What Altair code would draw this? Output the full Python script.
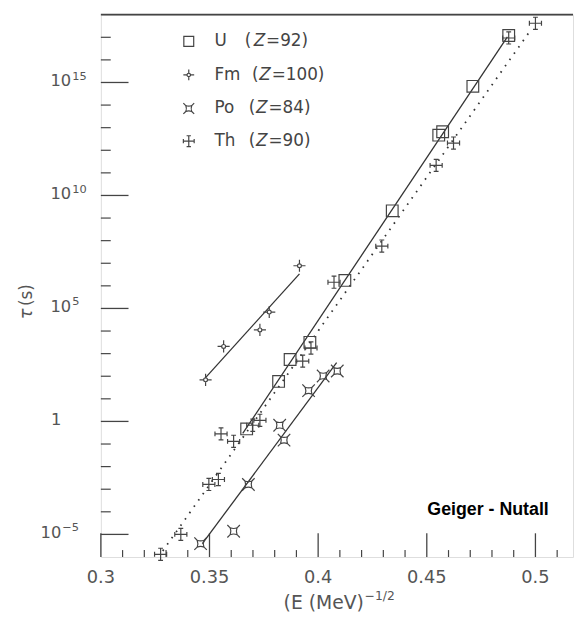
import altair as alt
import pandas as pd

# ---------------- data ----------------
# x = (E / MeV)^(-1/2), values are log10(tau / s)
u_x = [0.4877, 0.4712, 0.4573, 0.4555, 0.4341, 0.4123, 0.3962, 0.3871, 0.3818, 0.3671]
u_log = [17.08, 14.83, 12.82, 12.67, 9.32, 6.24, 3.50, 2.74, 1.77, -0.33]

fm_x = [0.3914, 0.3775, 0.3732, 0.3565, 0.3482]
fm_log = [6.89, 4.84, 4.05, 3.32, 1.84]

po_x = [0.4088, 0.4023, 0.3956, 0.3823, 0.3843, 0.3679, 0.3611, 0.3459]
po_log = [2.23, 2.01, 1.36, -0.17, -0.83, -2.79, -4.86, -5.41]

th_x = [0.5000, 0.4877, 0.4623, 0.4543, 0.4293, 0.4073, 0.3967, 0.3929,
        0.3732, 0.3699, 0.3553, 0.3611, 0.3541, 0.3497, 0.3368, 0.3275]
th_log = [17.62, 16.97, 12.32, 11.33, 7.76, 6.16, 3.25, 2.67,
          0.05, -0.17, -0.55, -0.88, -2.57, -2.79, -5.00, -5.88]

# fitted lines (end points)
u_line_x, u_line_log = [0.3653, 0.4871], [-0.53, 17.02]
fm_line_x, fm_line_log = [0.3482, 0.3914], [1.94, 6.53]
po_line_x, po_line_log = [0.3467, 0.4085], [-5.41, 2.60]
th_line_x, th_line_log = [0.3285, 0.4982], [-5.73, 17.37]

# axis ticks
x_major = [0.30, 0.35, 0.40, 0.45, 0.50]
x_labels = ["0.3", "0.35", "0.4", "0.45", "0.5"]
x_minor = [0.31, 0.32, 0.33, 0.34, 0.36, 0.37, 0.38, 0.39, 0.41, 0.42, 0.43,
           0.44, 0.46, 0.47, 0.48, 0.49, 0.51]
y_major = [1e-5, 1e0, 1e5, 1e10, 1e15]
y_minor = [1e-4, 1e-3, 1e-2, 1e-1, 1e1, 1e2, 1e3, 1e4, 1e6, 1e7, 1e8, 1e9,
           1e11, 1e12, 1e13, 1e14, 1e16, 1e17]
y_label_base = ["10", "1", "10", "10", "10"]
y_label_sup = ["\u22125", "", "5", "10", "15"]

legend_names = ["U", "Fm", "Po", "Th"]
legend_rest = ["=92)", "=100)", "=84)", "=90)"]

# ---------------- styling ----------------
W, H = 478, 549
FONT = "DejaVu Sans"
INK = "#444444"
TXT = "#555555"
LINE = "#333333"

xs = alt.Scale(domain=[0.3, 0.5173], nice=False, zero=False)
ys = alt.Scale(type="log", domain=[1e-6, 1e18], nice=False)

SHAPE_FM = ("M0,-1L0,-0.32M0,0.32L0,1M-1,0L-0.32,0M0.32,0L1,0"
            "M0.32,0A0.32,0.32,0,1,1,-0.32,0A0.32,0.32,0,1,1,0.32,0Z")
SHAPE_PO = ("M-0.55,-0.55Q0,-0.33,0.55,-0.55Q0.33,0,0.55,0.55Q0,0.33,-0.55,0.55"
            "Q-0.33,0,-0.55,-0.55Z"
            "M-0.55,-0.55L-1,-1M0.55,-0.55L1,-1M0.55,0.55L1,1M-0.55,0.55L-1,1")
SHAPE_TH = ("M-1,0L1,0M0,-1L0,1M-1,-0.4L-1,0.4M1,-0.4L1,0.4"
            "M-0.4,-1L0.4,-1M-0.4,1L0.4,1")


def table(x, logt):
    return pd.DataFrame({"x": x, "tau": [10.0 ** v for v in logt]})


def XE():
    return alt.X("x:Q", scale=xs, axis=None)


def YE():
    return alt.Y("tau:Q", scale=ys, axis=None)


one = pd.DataFrame({"a": [0]})
layers = []

# axes: domains only; ticks drawn inward as rules
layers.append(alt.Chart(pd.DataFrame({"v": x_major, "lab": x_labels})).mark_rule(
    color=INK, strokeWidth=1.3
).encode(
    x=alt.X("v:Q", scale=xs, axis=alt.Axis(
        labels=False, ticks=False, grid=False, domainColor=INK,
        domainWidth=1.8, title=None)),
    y=alt.value(H), y2=alt.value(H - 24),
))
layers.append(alt.Chart(pd.DataFrame({"v": x_major, "lab": x_labels})).mark_text(
    align="center", baseline="top", font=FONT, fontSize=18, color=TXT
).encode(x=alt.X("v:Q", scale=xs, axis=None), y=alt.value(H + 12), text="lab:N"))

layers.append(alt.Chart(pd.DataFrame({"v": x_minor})).mark_rule(
    color=INK, strokeWidth=1.2
).encode(x=alt.X("v:Q", scale=xs, axis=None), y=alt.value(H), y2=alt.value(H - 7)))

layers.append(alt.Chart(pd.DataFrame({"v": y_major})).mark_rule(
    color=INK, strokeWidth=1.3
).encode(
    y=alt.Y("v:Q", scale=ys, axis=alt.Axis(
        labels=False, ticks=False, grid=False, domainColor=INK,
        domainWidth=1.8, title=None)),
    x=alt.value(0), x2=alt.value(28),
))
layers.append(alt.Chart(pd.DataFrame({"v": y_minor})).mark_rule(
    color=INK, strokeWidth=1.2
).encode(y=alt.Y("v:Q", scale=ys, axis=None), x=alt.value(0), x2=alt.value(10)))

# top frame line
layers.append(alt.Chart(one).mark_rule(color=INK, strokeWidth=1.8).encode(
    x=alt.value(0), x2=alt.value(W), y=alt.value(0)))

# y tick labels with superscripts
for v, b, s in zip(y_major, y_label_base, y_label_sup):
    right = -40 if v <= 1 else -30
    d = pd.DataFrame({"v": [v], "b": [b], "s": [s]})
    layers.append(alt.Chart(d).mark_text(
        align="right", baseline="alphabetic", dy=4, font=FONT, fontSize=16.5,
        color=TXT).encode(y=alt.Y("v:Q", scale=ys, axis=None),
                          x=alt.value(right), text="b:N"))
    if s:
        layers.append(alt.Chart(d).mark_text(
            align="left", baseline="alphabetic", dy=-3, font=FONT, fontSize=11.5,
            color=TXT).encode(y=alt.Y("v:Q", scale=ys, axis=None),
                              x=alt.value(right + 1), text="s:N"))

# fitted lines
for lx, ly, dash in [(u_line_x, u_line_log, None), (fm_line_x, fm_line_log, None),
                     (po_line_x, po_line_log, None), (th_line_x, th_line_log, [1.6, 6.2])]:
    kw = dict(color=LINE, strokeWidth=1.3)
    if dash:
        kw = dict(color=LINE, strokeWidth=1.8, strokeDash=dash)
    layers.append(alt.Chart(table(lx, ly)).mark_line(**kw).encode(x=XE(), y=YE()))

# data points
sym = dict(filled=False, stroke=INK, strokeWidth=1.2, fill="transparent", opacity=1)
layers.append(alt.Chart(table(u_x, u_log)).mark_point(shape="square", size=140, **sym)
              .encode(x=XE(), y=YE()))
layers.append(alt.Chart(table(fm_x, fm_log)).mark_point(shape=SHAPE_FM, size=150, **sym)
              .encode(x=XE(), y=YE()))
layers.append(alt.Chart(table(po_x, po_log)).mark_point(shape=SHAPE_PO, size=160, **sym)
              .encode(x=XE(), y=YE()))
layers.append(alt.Chart(table(th_x, th_log)).mark_point(shape=SHAPE_TH, size=150, **sym)
              .encode(x=XE(), y=YE()))

# legend
leg_rows = [27, 61, 95, 128]
leg_shapes = [("square", 100), (SHAPE_FM, 120), (SHAPE_PO, 120), (SHAPE_TH, 120)]
paren_x = [145.7, 153, 149.7, 149.7]
z_x = [154.7, 160.3, 157, 157]
rest_x = [167.3, 173, 169.7, 169.7]
for i, name in enumerate(legend_names):
    yy = leg_rows[i]
    shp, sz = leg_shapes[i]
    layers.append(alt.Chart(one).mark_point(shape=shp, size=sz, **sym).encode(
        x=alt.value(89), y=alt.value(yy)))
    for txt, xx, style in [(name, 115, "normal"), ("(", paren_x[i], "normal"),
                           ("Z", z_x[i], "italic"), (legend_rest[i], rest_x[i], "normal")]:
        layers.append(alt.Chart(one).mark_text(
            align="left", baseline="middle", font=FONT, fontSize=17,
            fontStyle=style, color=INK, text=txt).encode(
            x=alt.value(xx), y=alt.value(yy)))

# axis titles
layers.append(alt.Chart(one).mark_text(
    align="left", baseline="alphabetic", font=FONT, fontSize=19, color=TXT,
    text="(E (MeV)").encode(x=alt.value(185), y=alt.value(602)))
layers.append(alt.Chart(one).mark_text(
    align="left", baseline="alphabetic", font=FONT, fontSize=12.5, color=TXT,
    text="\u22121/2").encode(x=alt.value(267), y=alt.value(593)))
layers.append(alt.Chart(one).mark_text(
    align="center", baseline="middle", font=FONT, fontSize=18, fontStyle="italic",
    color=TXT, angle=270, text="\u03c4").encode(x=alt.value(-75), y=alt.value(303)))
layers.append(alt.Chart(one).mark_text(
    align="left", baseline="middle", font=FONT, fontSize=17, color=TXT,
    angle=270, text="(s)").encode(x=alt.value(-75), y=alt.value(295)))

# annotation
layers.append(alt.Chart(one).mark_text(
    align="center", baseline="alphabetic", font="Liberation Sans", fontSize=18,
    fontWeight="bold", color="#000000", text="Geiger - Nutall").encode(
    x=alt.value(392), y=alt.value(506)))

chart = alt.layer(*layers).properties(
    width=W, height=H,
    padding={"left": 94, "top": 3, "right": 2, "bottom": 60},
    autosize=alt.AutoSizeParams(type="none"),
).configure_view(stroke=None).configure(background="white")

chart.save("out.html", embed_options={"renderer": "svg", "actions": False})
